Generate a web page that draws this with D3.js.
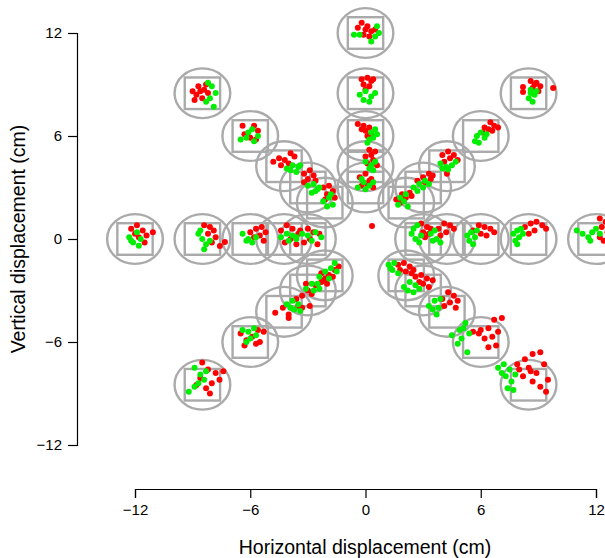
<!DOCTYPE html>
<html>
<head>
<meta charset="utf-8">
<script src="https://cdn.jsdelivr.net/npm/d3@7"></script>
<style>
	body { margin: 0; background: #fff; }
	text { font-family: "Liberation Sans", Arial, sans-serif; }
</style>
</head>
<body>
<svg id="chart" width="605" height="558"></svg>
<script>
var xTicks = [-12, -6, 0, 6, 12];
var yTicks = [-12, -6, 0, 6, 12];

// target centres (cm)
var targets = [
	[0, 12], [0, 8.49], [0, 6], [0, 4.24], [0, 3],
	[8.49, 8.49], [6, 6], [4.24, 4.24], [3, 3], [2.12, 2.12],
	[-8.49, 8.49], [-6, 6], [-4.24, 4.24], [-3, 3], [-2.12, 2.12],
	[-12, 0], [-8.49, 0], [-6, 0], [-4.24, 0], [-3, 0],
	[3, 0], [4.24, 0], [6, 0], [8.49, 0], [12, 0],
	[-2.12, -2.12], [-3, -3], [-4.24, -4.24], [-6, -6], [-8.49, -8.49],
	[2.12, -2.12], [3, -3], [4.24, -4.24], [6, -6], [8.49, -8.49]
];

var redPoints = [
	[-0.4,12.3],[-0.2,12.6],[0.1,12.4],[0.3,12.1],[-0.1,11.9],[0.5,12.2],[0.0,12.2],[0.2,11.8],
	[-0.2,9.3],[0.1,9.4],[0.3,9.2],[-0.1,9.0],[0.2,8.9],[0.4,9.3],[0.0,8.7],
	[-0.4,6.7],[-0.1,6.6],[0.2,6.5],[0.0,6.3],[0.3,6.1],[-0.2,6.4],[0.1,6.0],
	[0.2,5.2],[0.5,5.1],[0.0,4.8],[0.4,4.6],[0.1,4.4],[0.6,4.3],[0.3,4.9],
	[-0.3,3.6],[0.0,3.8],[0.3,3.5],[0.1,3.2],[-0.2,3.1],[0.4,3.0],[0.2,3.4],
	[8.6,9.2],[8.9,9.1],[9.1,8.9],[8.7,8.8],[9.0,8.6],[8.8,9.0],[9.77,8.8],[8.2,8.85],[8.2,8.56],
	[6.2,6.5],[6.5,6.8],[6.7,6.6],[6.4,6.4],[6.9,6.5],[6.6,6.3],[6.1,6.2],
	[4.0,4.9],[4.3,5.1],[4.6,4.9],[4.4,4.7],[4.8,4.6],[4.1,4.5],[4.24,3.8],
	[2.7,3.4],[3.0,3.6],[3.3,3.8],[3.5,3.7],[3.1,3.3],[3.4,3.5],
	[1.6,2.3],[1.9,2.6],[2.3,2.7],[2.1,2.4],[2.4,2.5],[1.8,2.1],
	[-9.0,8.6],[-8.7,8.9],[-8.4,8.7],[-8.8,8.4],[-8.5,8.2],[-8.2,8.5],[-8.9,8.1],[-8.6,8.6],[-8.3,9.0],
	[-6.4,6.6],[-6.3,6.1],[-5.8,6.6],[-5.6,6.3],[-6.0,5.9],[-5.7,5.8],
	[-4.8,4.5],[-4.5,4.7],[-4.2,4.6],[-3.9,5.0],[-3.7,4.8],[-4.0,4.4],[-4.4,4.3],
	[-3.2,3.8],[-2.9,4.0],[-2.7,3.7],[-3.0,3.5],[-2.6,3.4],[-3.2,3.3],
	[-2.2,3.0],[-1.9,3.1],[-1.7,2.8],[-2.0,2.6],[-1.6,2.4],[-2.1,2.3],
	[-12.2,0.6],[-11.9,0.8],[-11.6,0.5],[-11.4,0.2],[-11.8,0.1],[-12.0,0.3],[-11.5,-0.2],[-11.07,0.4],
	[-8.4,0.8],[-8.1,0.7],[-7.9,0.5],[-8.2,0.3],[-7.8,0.1],[-8.0,-0.2],[-7.32,-0.17],[-7.58,-0.41],
	[-6.0,0.4],[-5.7,0.6],[-5.4,0.7],[-5.2,0.4],[-5.5,0.2],[-5.8,0.1],[-5.3,-0.1],
	[-4.4,0.5],[-4.1,0.8],[-3.8,0.6],[-3.5,0.3],[-3.9,0.0],[-4.2,-0.2],[-3.6,-0.3],
	[-3.4,0.5],[-3.0,0.6],[-2.7,0.4],[-2.4,0.3],[-2.9,0.0],[-2.5,-0.3],[-3.2,-0.2],
	[0.34,0.76],
	[2.9,0.9],[3.2,0.7],[3.4,0.6],[3.0,0.4],[3.3,0.3],[3.1,0.1],
	[3.8,0.6],[4.1,0.9],[4.4,0.8],[4.6,0.6],[4.2,0.4],[3.9,0.2],
	[5.6,0.5],[5.9,0.8],[6.2,0.7],[6.5,0.6],[6.7,0.4],[6.0,0.3],[6.3,0.2],
	[8.3,0.7],[8.6,0.9],[8.9,1.0],[9.2,0.8],[9.4,0.6],[8.8,0.5],[8.5,0.3],
	[12.2,1.2],[12.5,1.0],[12.3,0.7],[12.6,0.4],[12.2,0.1],[12.4,-0.1],
	[-2.5,-2.7],[-2.2,-2.4],[-1.9,-2.1],[-1.6,-1.8],[-1.4,-1.6],[-2.0,-2.6],[-1.7,-2.2],[-2.3,-2.0],
	[-3.3,-3.3],[-3.0,-3.0],[-2.6,-2.7],[-2.3,-2.5],[-2.1,-2.3],[-2.8,-3.2],[-3.1,-2.6],
	[-4.7,-4.3],[-4.3,-4.0],[-4.0,-4.4],[-3.6,-3.5],[-3.3,-4.0],[-2.9,-3.9],[-4.0,-4.6],[-3.5,-3.9],
	[-6.5,-5.5],[-6.2,-5.9],[-5.9,-5.7],[-5.6,-5.3],[-5.3,-5.4],[-5.7,-6.1],[-6.3,-6.2],[-5.5,-6.0],
	[-8.5,-7.2],[-8.2,-7.6],[-7.8,-7.8],[-7.4,-7.7],[-7.6,-8.2],[-8.0,-8.4],[-8.3,-8.7],[-8.6,-8.1],[-8.8,-8.5],[-8.1,-9.0],
	[1.7,-1.5],[2.0,-1.4],[2.3,-1.6],[2.5,-1.8],[2.1,-1.9],[1.8,-1.8],[2.4,-2.0],
	[2.6,-2.2],[2.9,-2.1],[3.2,-2.3],[3.5,-2.4],[3.0,-2.6],[3.3,-2.8],[2.8,-2.5],
	[4.0,-3.5],[4.3,-3.1],[4.6,-3.3],[4.8,-3.6],[4.4,-3.7],[4.1,-3.9],[4.7,-4.0],
	[5.6,-5.4],[6.0,-5.3],[6.4,-5.2],[6.9,-5.4],[6.6,-5.7],[6.2,-5.8],[6.8,-6.2],[7.1,-4.6],[6.7,-4.7],[6.4,-6.3],[5.9,-5.5],
	[7.9,-7.3],[8.3,-7.0],[8.7,-6.7],[9.1,-6.6],[8.5,-7.5],[8.9,-7.8],[9.3,-7.3],[8.2,-8.0],[8.7,-8.3],[9.1,-8.6],[9.5,-8.2],[8.6,-7.7],[9.4,-8.9],[8.0,-7.6]
];

var greenPoints = [
	[-0.6,11.9],[0.6,12.4],[0.5,11.8],[0.3,11.5],[0.7,12.0],[-0.3,11.9],
	[-0.3,8.4],[0.0,8.6],[0.3,8.3],[0.5,8.5],[-0.1,8.1],[0.2,8.0],
	[0.3,6.2],[0.5,6.4],[0.4,5.9],[0.2,5.8],[0.6,6.1],[0.1,5.6],
	[0.0,4.5],[0.3,4.3],[0.5,4.5],[0.2,4.1],[0.4,4.0],
	[-0.4,3.0],[-0.1,3.3],[0.2,3.1],[0.4,3.3],[0.0,2.9],[-0.2,3.5],
	[8.6,8.7],[8.8,8.4],[8.5,8.2],[8.7,8.0],[8.9,8.6],[8.6,8.5],
	[6.0,6.2],[5.8,6.0],[6.2,5.9],[5.7,5.7],[5.9,5.6],[6.3,6.1],
	[3.9,4.4],[4.2,4.2],[4.5,4.3],[4.7,4.5],[4.3,4.05],[4.0,4.1],
	[2.5,3.0],[2.8,3.2],[3.1,3.4],[3.3,3.2],[2.7,2.8],[3.0,3.0],
	[1.7,2.0],[2.0,2.2],[2.2,1.9],[1.8,2.4],[2.1,2.6],
	[-8.0,8.9],[-7.8,8.5],[-8.1,8.2],[-8.3,8.0],[-7.9,7.7],[-8.2,9.1],
	[-6.5,5.8],[-6.1,6.2],[-5.9,6.4],[-5.6,6.0],[-5.8,5.7],[-6.2,5.9],
	[-4.1,4.1],[-3.8,4.3],[-3.5,4.2],[-3.9,4.0],[-3.6,3.9],[-3.4,4.3],
	[-3.0,3.1],[-2.7,3.2],[-2.5,2.9],[-2.8,2.7],[-2.4,3.0],[-2.6,2.8],
	[-2.2,2.2],[-1.9,2.4],[-1.7,2.0],[-2.0,1.9],[-1.8,2.6],
	[-12.3,0.1],[-12.1,-0.2],[-11.8,-0.4],[-12.2,-0.1],[-11.7,0.0],[-11.9,0.4],
	[-8.7,0.3],[-8.5,0.0],[-8.3,-0.3],[-8.4,-0.6],[-8.6,0.5],[-8.1,-0.1],
	[-6.4,0.3],[-6.1,0.0],[-5.9,-0.2],[-5.7,0.1],[-6.2,-0.1],
	[-4.4,0.1],[-4.1,0.3],[-3.8,0.2],[-4.0,-0.1],[-3.6,0.0],
	[-3.6,0.1],[-3.3,0.3],[-3.0,0.2],[-2.6,0.4],[-2.3,0.1],[-2.8,-0.1],
	[2.4,0.3],[2.6,0.0],[2.8,-0.2],[2.5,0.6],[2.9,0.2],[2.7,0.8],
	[3.4,0.3],[3.6,0.5],[3.7,0.0],[3.9,-0.2],[3.5,-0.1],
	[5.3,0.2],[5.5,0.4],[5.7,0.1],[5.4,-0.1],[5.8,0.5],[5.6,-0.3],
	[7.7,0.3],[7.9,0.5],[8.1,0.6],[8.0,0.1],[7.8,-0.1],[8.2,0.3],[7.9,-0.3],
	[11.0,0.5],[11.3,0.3],[11.6,0.1],[11.8,0.4],[12.0,0.6],[11.7,-0.1],[12.2,0.3],
	[-1.6,-1.4],[-1.8,-1.7],[-2.1,-1.9],[-1.9,-2.3],[-2.4,-2.2],[-1.5,-1.9],
	[-3.1,-2.9],[-2.8,-2.6],[-2.5,-2.6],[-2.7,-3.0],[-2.4,-2.9],
	[-4.1,-3.8],[-3.8,-3.6],[-3.5,-3.8],[-3.7,-4.1],[-3.4,-4.2],[-3.9,-4.0],
	[-6.4,-5.3],[-6.1,-5.4],[-5.8,-5.2],[-6.0,-5.8],[-5.7,-5.6],[-6.2,-6.0],
	[-8.9,-7.5],[-8.6,-7.9],[-8.4,-8.2],[-8.7,-8.4],[-9.2,-8.9],[-8.9,-8.6],[-8.3,-7.7],
	[1.2,-1.5],[1.5,-1.4],[1.4,-1.8],[1.7,-2.0],[1.3,-1.7],
	[2.0,-2.8],[2.3,-2.5],[2.6,-2.7],[2.2,-3.0],[2.5,-3.1],[2.8,-2.9],
	[3.3,-3.9],[3.6,-3.6],[3.9,-3.5],[3.5,-4.1],[3.8,-4.0],[3.7,-4.4],
	[4.5,-5.6],[4.9,-5.3],[5.2,-4.9],[5.0,-5.8],[5.4,-5.5],[4.8,-6.1],[5.3,-6.6],[5.1,-5.2],
	[6.9,-7.5],[7.2,-7.3],[7.5,-7.6],[7.3,-8.0],[7.6,-8.3],[7.4,-8.7],[7.8,-7.9],[7.1,-7.8],[7.7,-8.8]
];

var circleRadius = 1.45;  // cm
var squareHalf = 0.92;    // cm

var svg = d3.select("#chart");

var x = d3.scaleLinear()
	.domain([-12, 12])
	.range([135, 596]);
var y = d3.scaleLinear()
	.domain([-12, 12])
	.range([445, 33]);

var grey = "#aaaaaa";

var targetG = svg.append("g")
	.attr("class", "targets");

targetG.selectAll("ellipse")
	.data(targets)
	.enter().append("ellipse")
		.attr("cx", function(d){ return x(d[0]); })
		.attr("cy", function(d){ return y(d[1]); })
		.attr("rx", x(circleRadius) - x(0))
		.attr("ry", y(0) - y(circleRadius))
		.attr("fill", "none")
		.attr("stroke", grey)
		.attr("stroke-width", 2.4);

targetG.selectAll("rect")
	.data(targets)
	.enter().append("rect")
		.attr("x", function(d){ return x(d[0] - squareHalf); })
		.attr("y", function(d){ return y(d[1] + squareHalf); })
		.attr("width", x(squareHalf) - x(-squareHalf))
		.attr("height", y(-squareHalf) - y(squareHalf))
		.attr("fill", "none")
		.attr("stroke", grey)
		.attr("stroke-width", 2.4);

var drawPoints = function(data, colour){
	svg.append("g")
		.selectAll("circle")
		.data(data)
		.enter().append("circle")
			.attr("cx", function(d){ return x(d[0]); })
			.attr("cy", function(d){ return y(d[1]); })
			.attr("r", 3)
			.attr("fill", colour);
};
drawPoints(redPoints, "#ff0000");
drawPoints(greenPoints, "#00ee00");

// axes, offset from the plot like the original
var xAxis = d3.axisBottom(x)
	.tickValues(xTicks)
	.tickSize(9)
	.tickPadding(6);
var gx = svg.append("g")
	.attr("transform", "translate(0,489)")
	.call(xAxis);

var yAxis = d3.axisLeft(y)
	.tickValues(yTicks)
	.tickSize(9)
	.tickPadding(6);
var gy = svg.append("g")
	.attr("transform", "translate(77,0)")
	.call(yAxis);

[gx, gy].forEach(function(g){
	g.select(".domain")
		.attr("stroke", "#000")
		.attr("stroke-width", 1.2);
	g.selectAll(".tick line")
		.attr("stroke", "#000")
		.attr("stroke-width", 1.2);
	g.selectAll(".tick text")
		.attr("fill", "#000")
		.attr("font-family", "Liberation Sans, Arial, sans-serif")
		.attr("font-size", 15);
});

svg.append("text")
	.attr("x", 365)
	.attr("y", 554)
	.attr("text-anchor", "middle")
	.attr("font-size", 19.5)
	.attr("fill", "#000")
	.text("Horizontal displacement (cm)");

svg.append("text")
	.attr("transform", "translate(25,239) rotate(-90)")
	.attr("text-anchor", "middle")
	.attr("font-size", 19.5)
	.attr("fill", "#000")
	.text("Vertical displacement (cm)");
</script>
</body>
</html>
